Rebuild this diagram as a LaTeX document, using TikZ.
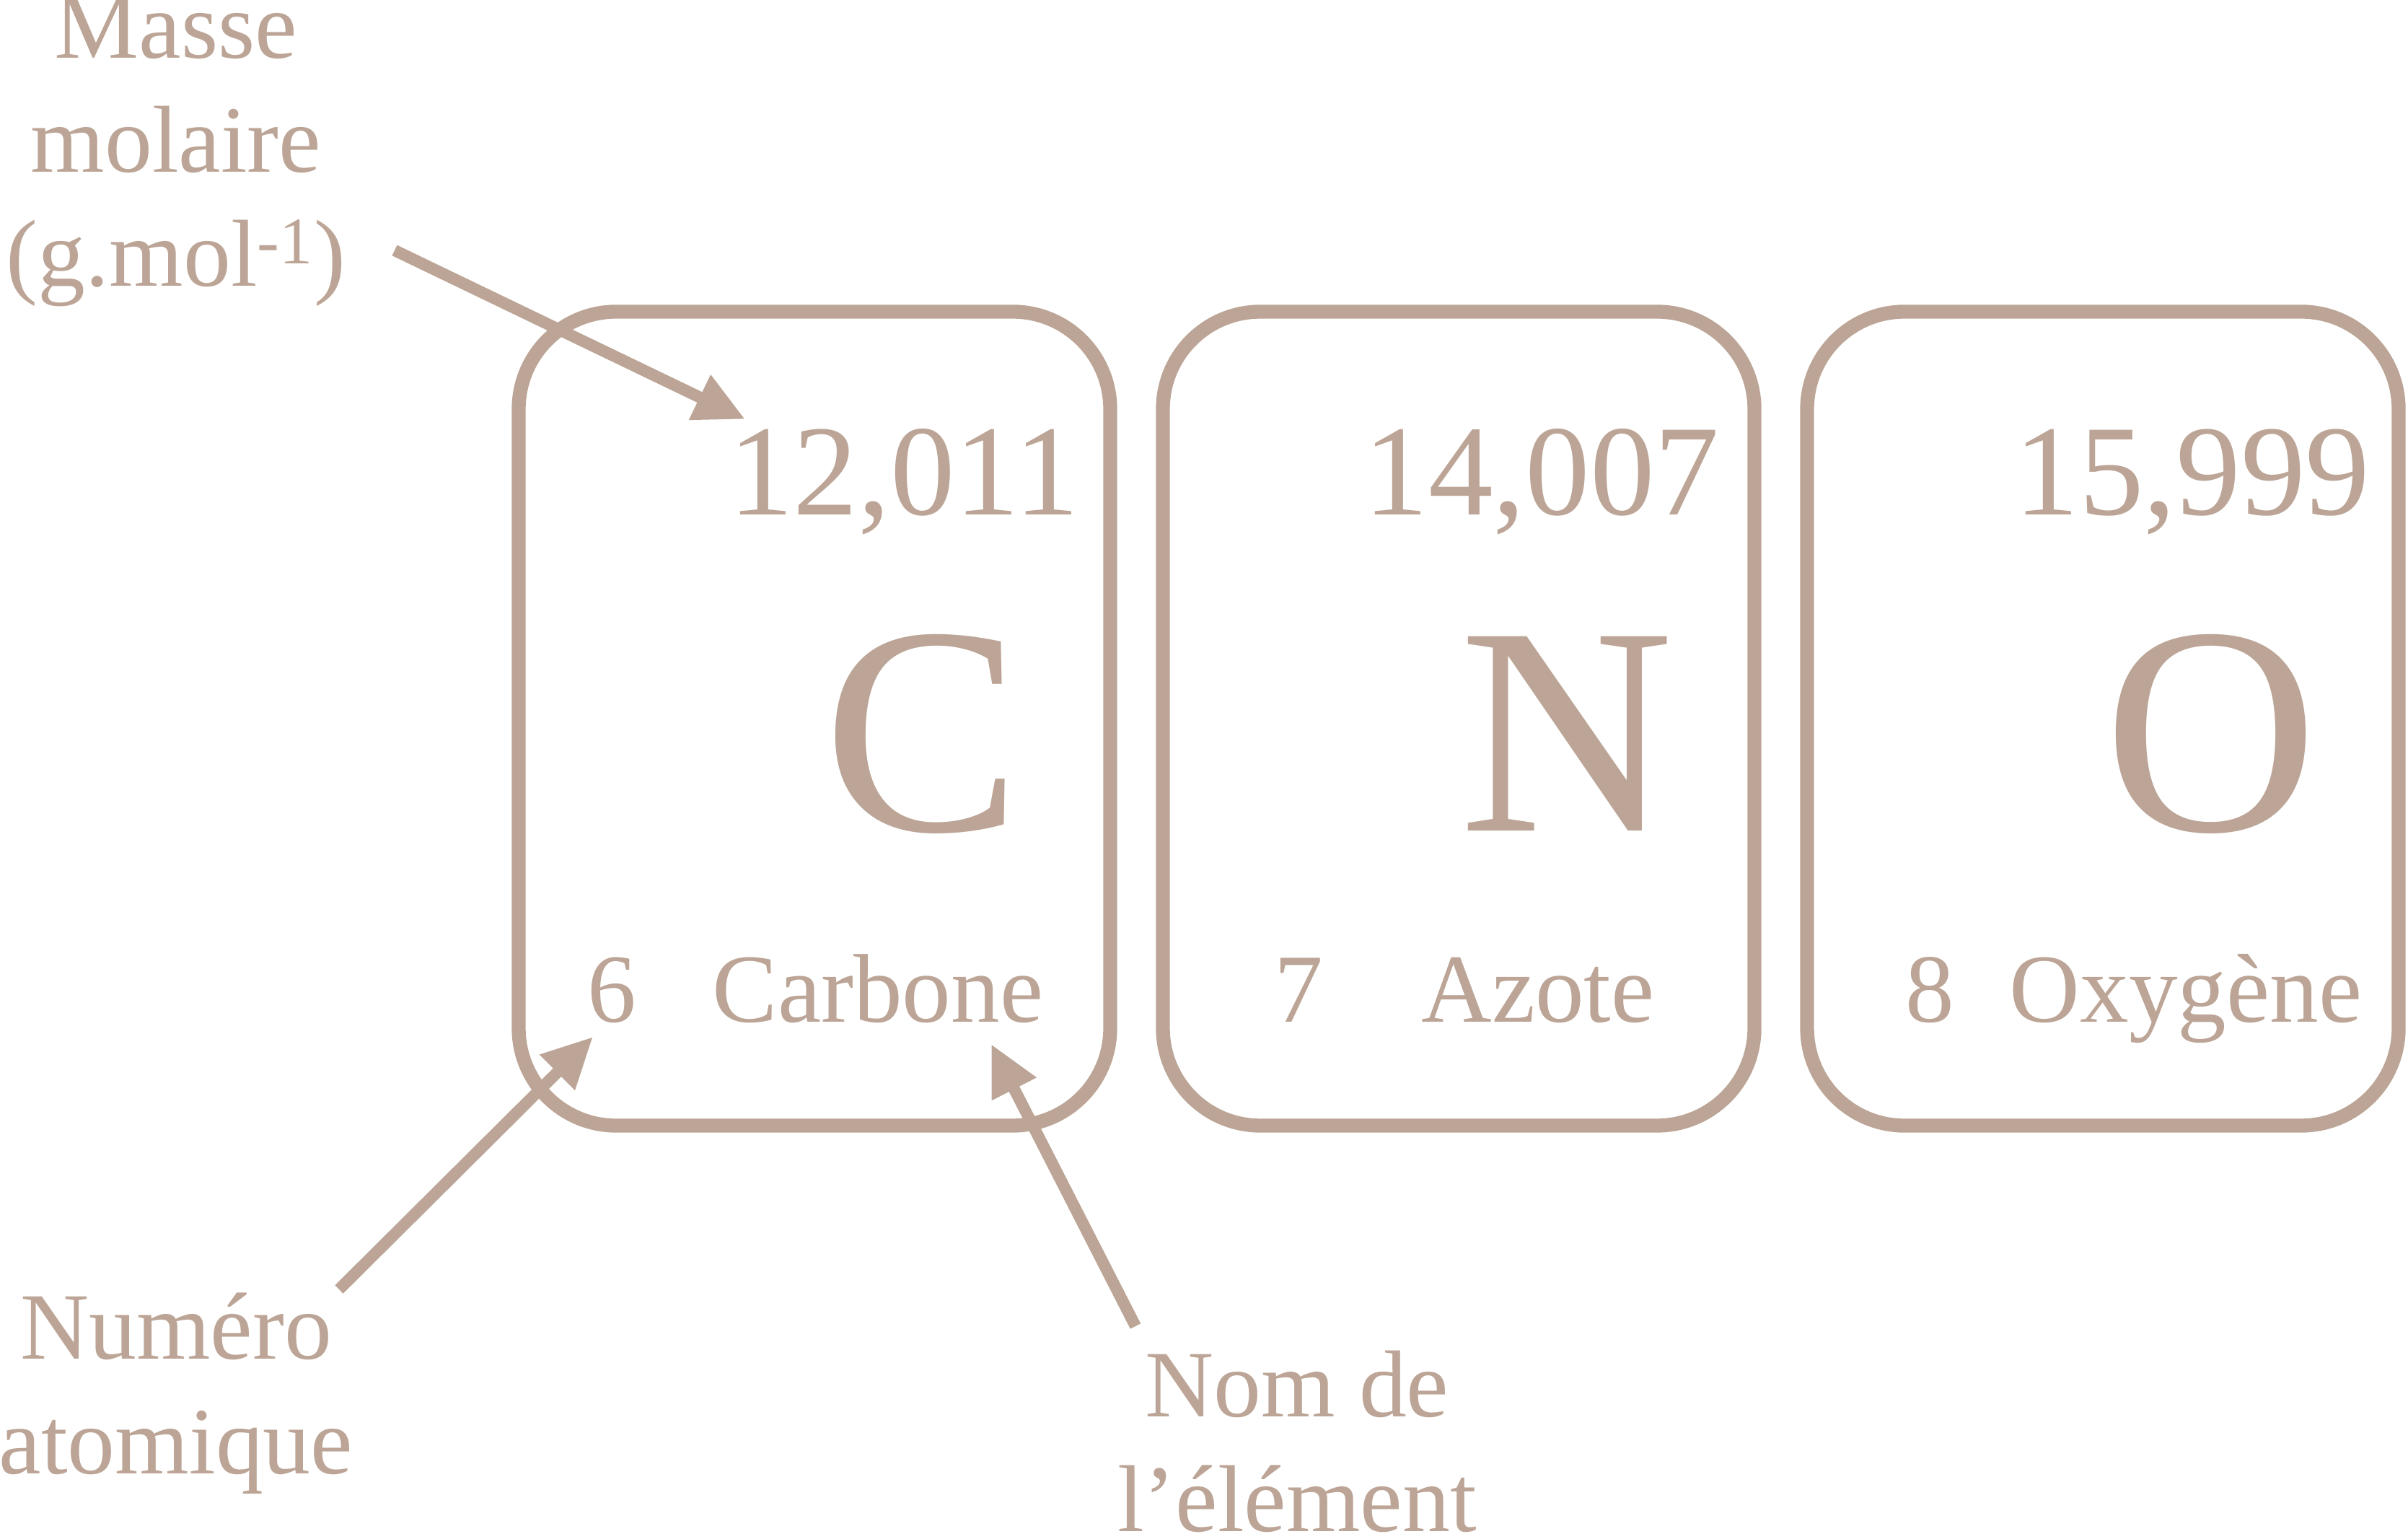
\documentclass[tikz,border=0pt]{standalone}
\usepackage{fontspec}
\setmainfont{Liberation Serif}
\usepackage{tikz}
\usetikzlibrary{positioning, arrows.meta}
\definecolor{sand}{RGB}{188,165,150}
\tikzstyle{elembox} = [rectangle, draw=sand, line width=5.5pt, rounded corners=1.35cm, minimum width=8.2cm, minimum height=11.28cm, outer sep=0pt]
\tikzstyle{pointer} = [draw=sand, line width=4.6pt, -{Triangle[length=0.7cm, width=0.65cm]}]
\tikzstyle{callout} = [text=sand, inner sep=0pt, align=center, font=\fontsize{37.5}{45}\selectfont]
\tikzstyle{smalltxt} = [text=sand, inner sep=0pt, font=\fontsize{38.5}{45}\selectfont]
\tikzstyle{massnum} = [text=sand, inner sep=0pt, font=\fontsize{51}{60}\selectfont]
\tikzstyle{symb} = [text=sand, inner sep=0pt, font=\fontsize{117}{140}\selectfont]

\begin{document}
\begin{tikzpicture}[node distance=0.73cm]
\useasboundingbox (0,0) rectangle (33.38,21.25);

% the three cells
\node (carbone) [elembox] at (11.29,11.29) {};
\node (azote)   [elembox, right=of carbone] {};
\node (oxygene) [elembox, right=of azote] {};

% carbone
\node (c-mass) [massnum, anchor=base east] at ([shift={(-0.42,-2.82)}]carbone.north east) {12,011};
\node (c-sym)  [symb, anchor=base] at ([shift={(1.5,-1.56)}]carbone.center) {C};
\node (c-z)    [smalltxt, anchor=base] at ([shift={(1.29,1.43)}]carbone.south west) {6};
\node (c-name) [smalltxt, anchor=base] at ([shift={(4.98,1.43)}]carbone.south west) {Carbone};

% azote
\node (n-mass) [massnum, anchor=base east] at ([shift={(-0.48,-2.82)}]azote.north east) {14,007};
\node (n-sym)  [symb, anchor=base] at ([shift={(1.5,-1.56)}]azote.center) {N};
\node (n-z)    [smalltxt, anchor=base] at ([shift={(1.88,1.43)}]azote.south west) {7};
\node (n-name) [smalltxt, anchor=base] at ([shift={(5.20,1.43)}]azote.south west) {Azote};

% oxygene
\node (o-mass) [massnum, anchor=base east] at ([shift={(-0.39,-2.82)}]oxygene.north east) {15,999};
\node (o-sym)  [symb, anchor=base] at ([shift={(1.5,-1.56)}]oxygene.center) {O};
\node (o-z)    [smalltxt, anchor=base] at ([shift={(1.70,1.43)}]oxygene.south west) {8};
\node (o-name) [smalltxt, anchor=base] at ([shift={(5.25,1.43)}]oxygene.south west) {Oxygène};

% legends (base = last line)
\node (masse)  [callout, anchor=base] at (2.44,17.28) {Masse\\molaire\\(g.mol\textsuperscript{-1})};
\node (numero) [callout, anchor=base] at (2.44,0.83) {Numéro\\atomique};
\node (nom)    [callout, anchor=base] at (17.98,0.03) {Nom de\\l’élément};

\coordinate (masse-tail)  at (5.47,17.78);
\coordinate (masse-tip)   at (10.33,15.44);
\coordinate (numero-tail) at (4.70,3.38);
\coordinate (numero-tip)  at (8.22,6.88);
\coordinate (nom-tail)    at (15.74,2.87);
\coordinate (nom-tip)     at (13.74,6.78);

\draw[pointer] (masse-tail) -- (masse-tip);
\draw[pointer] (numero-tail) -- (numero-tip);
\draw[pointer] (nom-tail) -- (nom-tip);

\end{tikzpicture}
\end{document}
